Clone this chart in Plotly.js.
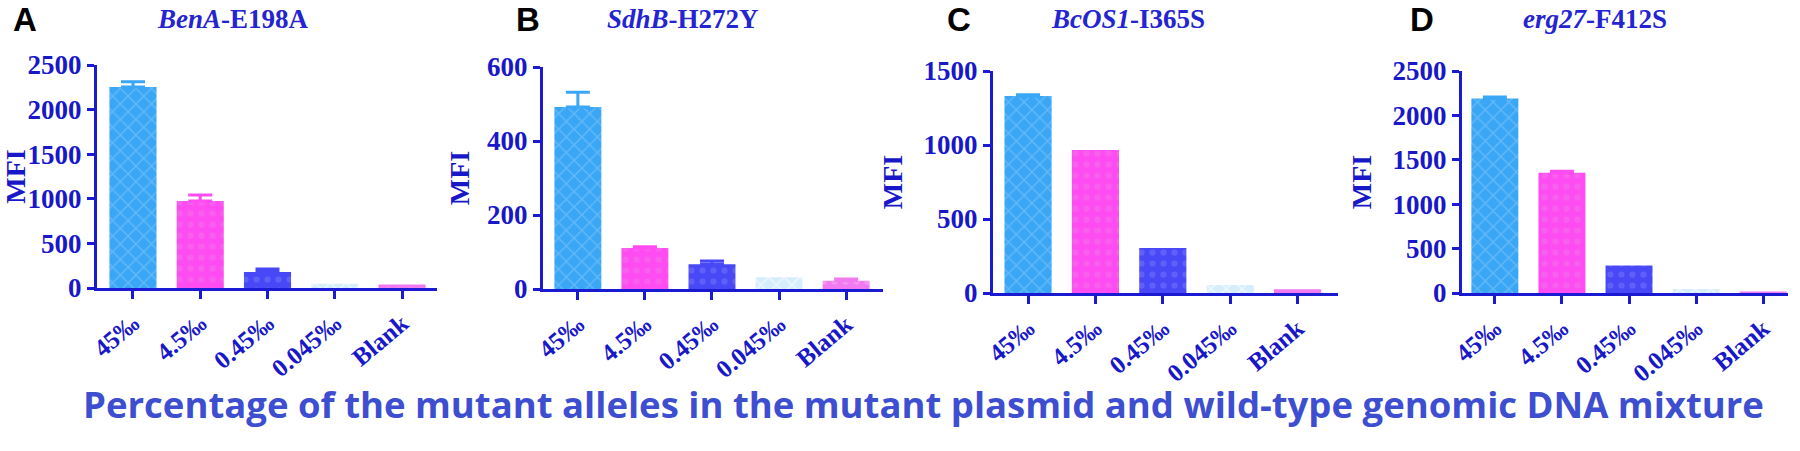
<!DOCTYPE html>
<html>
<head>
<meta charset="utf-8">
<script src="https://cdn.plot.ly/plotly-3.0.1.min.js"></script>
<style>html,body{margin:0;padding:0;background:#fff;}#chart{width:1800px;height:451px;}</style>
</head>
<body>
<div id="chart"></div>
<script>
// ---- data ----
const categories = ["45‰", "4.5‰", "0.45‰", "0.045‰", "Blank"];
const panelLetters = ["A", "B", "C", "D"];
const geneNames = ["BenA", "SdhB", "BcOS1", "erg27"];
const mutations = ["E198A", "H272Y", "I365S", "F412S"];
const valuesA = [2253, 975, 180, 49, 38];
const errorsA = [60, 67, 34, 0, 0];
const valuesB = [492, 111, 67, 32, 22];
const errorsB = [40, 3, 9, 0, 5];
const valuesC = [1331, 966, 304, 54, 25];
const errorsC = [9, 0, 0, 0, 0];
const valuesD = [2191, 1355, 311, 45, 18];
const errorsD = [15, 15, 0, 0, 0];
const yMax = [2500, 600, 1500, 2500];
const yTicks = [[0, 500, 1000, 1500, 2000, 2500], [0, 200, 400, 600], [0, 500, 1000, 1500], [0, 500, 1000, 1500, 2000, 2500]];
const yAxisTitle = "MFI";
const bottomTitle = "Percentage of the mutant alleles in the mutant plasmid and wild-type genomic DNA mixture";

// ---- styling ----
const barColors = ["#3aa6f6", "#ff4cf2", "#4848f6", "#d6eefb", "#f27af0"];
const patShapes = ["x", ".", ".", "x", "."];
const patFg = ["#7cc6fa", "#f06ee8", "#7070fa", "#ffffff", "#f8a8f4"];
const axisColor = "#1a1ad2";
const textColor = "#1818c8";
const serif = "Liberation Serif, Times New Roman, serif";

const allValues = [valuesA, valuesB, valuesC, valuesD];
const allErrors = [errorsA, errorsB, errorsC, errorsD];
const xDomains = [[97, 437], [543, 883], [993, 1338], [1462, 1788]];
const yDomainsPx = [[65, 288], [67, 289], [71, 293], [71, 293]];
const xRanges = [[-0.535, 4.52], [-0.52, 4.55], [-0.52, 4.6], [-0.49, 4.37]];
const standoffs = [7, 10, 13, 13];
const titleX = [233, 683, 1128, 1595];
const letterX = [25, 528, 959, 1422];
const W = 1800, H = 451;

const traces = [];
const layout = {
  width: W, height: H,
  margin: {l: 0, r: 0, t: 0, b: 0},
  paper_bgcolor: "#ffffff", plot_bgcolor: "#ffffff",
  showlegend: false,
  barmode: "overlay",
  annotations: [],
  font: {family: serif, color: textColor}
};

for (let p = 0; p < 4; p++) {
  const sfx = p === 0 ? "" : String(p + 1);
  for (let i = 0; i < categories.length; i++) {
    traces.push({
      type: "bar",
      x: [categories[i]],
      y: [allValues[p][i]],
      xaxis: "x" + sfx, yaxis: "y" + sfx,
      width: 0.7,
      marker: {
        color: barColors[i],
        opacity: 1,
        line: {width: 0},
        pattern: {shape: patShapes[i], fgcolor: patFg[i], bgcolor: barColors[i], fgopacity: 0.6, size: 11, solidity: 0.25}
      },
      error_y: {
        type: "data", symmetric: false,
        array: [allErrors[p][i]], arrayminus: [0],
        visible: allErrors[p][i] > 0,
        color: barColors[i], thickness: 3, width: 12
      },
      hoverinfo: "x+y"
    });
  }
  const xd = xDomains[p], yd = yDomainsPx[p];
  layout["xaxis" + sfx] = {
    domain: [xd[0] / W, xd[1] / W],
    anchor: "y" + sfx,
    type: "category",
    range: xRanges[p],
    showline: true, linecolor: axisColor, linewidth: 3,
    ticks: "outside", ticklen: 8, tickwidth: 3, tickcolor: axisColor,
    tickangle: -40,
    tickfont: {family: serif, size: 25, color: textColor, weight: "bold"},
    showgrid: false, zeroline: false, fixedrange: true
  };
  layout["yaxis" + sfx] = {
    domain: [1 - yd[1] / H, 1 - yd[0] / H],
    anchor: "x" + sfx,
    range: [0, yMax[p]],
    tickvals: yTicks[p],
    showline: true, linecolor: axisColor, linewidth: 3,
    ticks: "outside", ticklen: 7, tickwidth: 3, tickcolor: axisColor,
    tickfont: {family: serif, size: 27, color: textColor, weight: "bold"},
    title: {text: yAxisTitle, font: {family: serif, size: 28, color: textColor, weight: "bold"}, standoff: standoffs[p]},
    showgrid: false, zeroline: false, fixedrange: true
  };
  layout.annotations.push({
    xref: "paper", yref: "paper",
    x: titleX[p] / W, y: 1 - 19 / H,
    xanchor: "center", yanchor: "middle",
    text: "<i>" + geneNames[p] + "</i>-" + mutations[p],
    showarrow: false,
    font: {family: serif, size: 27, color: "#2424d0", weight: "bold"}
  });
  layout.annotations.push({
    xref: "paper", yref: "paper",
    x: letterX[p] / W, y: 1 - 20 / H,
    xanchor: "center", yanchor: "middle",
    text: panelLetters[p],
    showarrow: false,
    font: {family: "Liberation Sans, Arial, sans-serif", size: 33, color: "#000000", weight: "bold"}
  });
}

layout.annotations.push({
  xref: "paper", yref: "paper",
  x: 923 / W, y: 1 - 404 / H,
  xanchor: "center", yanchor: "middle",
  text: bottomTitle,
  showarrow: false,
  font: {family: "Open Sans, Noto Sans, sans-serif", size: 36.5, color: "#3d4ed0", weight: "bold"}
});

Plotly.newPlot("chart", traces, layout, {displayModeBar: false, staticPlot: true});
</script>
</body>
</html>
